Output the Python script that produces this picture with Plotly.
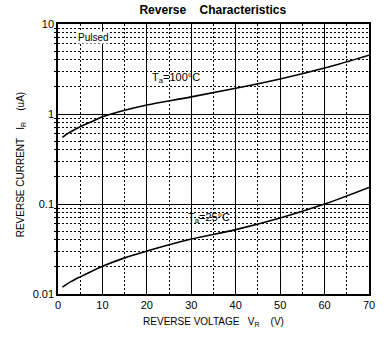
import plotly.graph_objects as go

# Reverse voltage (V) and reverse current (uA) at two ambient temperatures
vr = [1, 2, 3, 5, 7.5, 10, 15, 20, 30, 40, 50, 60, 70]
ir_100c = [0.55, 0.60, 0.64, 0.72, 0.82, 0.93, 1.10, 1.26, 1.55, 1.93, 2.45, 3.24, 4.5]
ir_25c = [0.0119, 0.0129, 0.0138, 0.0155, 0.0178, 0.0203, 0.0252, 0.0300,
          0.0408, 0.0519, 0.0699, 0.100, 0.153]

y_ticks = [0.01, 0.1, 1, 10]
y_ticktext = ["0.01", "0.1", "1", "10"]
y_minor = [m * d for d in (0.01, 0.1, 1) for m in range(2, 10)]

font = "Liberation Sans, Arial, sans-serif"
dots = "2px,2px"

fig = go.Figure()
for ys in (ir_100c, ir_25c):
    fig.add_trace(go.Scatter(
        x=vr, y=ys, mode="lines",
        line=dict(color="black", width=1.6, shape="spline", smoothing=1.0),
        showlegend=False, hoverinfo="skip",
    ))

fig.add_annotation(x=8, y=0.855, xref="x", yref="y", xanchor="center", yanchor="middle",
                   text="Pulsed", showarrow=False, font=dict(size=10, color="black", family=font),
                   bgcolor="white", borderpad=0)
fig.add_annotation(x=26.5, y=0.40, xref="x", yref="y", xanchor="center", yanchor="middle",
                   text="T<sub>a</sub>=100°C", showarrow=False,
                   font=dict(size=11, color="black", family=font))
fig.add_annotation(x=34, y=-1.15, xref="x", yref="y", xanchor="center", yanchor="middle",
                   text="T<sub>a</sub>=25°C", showarrow=False,
                   font=dict(size=11, color="black", family=font))

fig.update_xaxes(
    range=[0, 70], dtick=10, tick0=0,
    showgrid=True, gridcolor="black", gridwidth=1.2,
    minor=dict(dtick=5, tick0=0, showgrid=True, gridcolor="black", griddash=dots, gridwidth=1),
    showline=True, linecolor="black", linewidth=1.5, mirror=True,
    ticks="", zeroline=False,
    tickfont=dict(size=11, color="black", family=font),
    title=dict(text="REVERSE VOLTAGE   V<sub>R</sub>    (V)", standoff=8,
               font=dict(size=10, color="black", family=font)),
)
fig.update_yaxes(
    type="log", range=[-2, 1],
    tickvals=y_ticks, ticktext=y_ticktext,
    showgrid=True, gridcolor="black", gridwidth=1.2,
    minor=dict(tickvals=y_minor, showgrid=True, gridcolor="black", griddash=dots, gridwidth=1,
               ticks="outside", ticklen=2, tickcolor="black"),
    showline=True, linecolor="black", linewidth=1.5, mirror=True,
    ticks="", zeroline=False,
    tickfont=dict(size=11, color="black", family=font),
    title=dict(text="REVERSE CURRENT   I<sub>R</sub>    (uA)&nbsp;&nbsp;&nbsp;&nbsp;", standoff=6,
               font=dict(size=10, color="black", family=font)),
)

fig.update_layout(
    width=387, height=340,
    margin=dict(l=58, r=18, t=24, b=46),
    paper_bgcolor="white", plot_bgcolor="white",
    title=dict(text="<b>Reverse    Characteristics</b>", x=0.55, xanchor="center",
               y=0.985, yanchor="top", font=dict(size=12, color="black", family=font)),
)

fig.write_html("out.html")
